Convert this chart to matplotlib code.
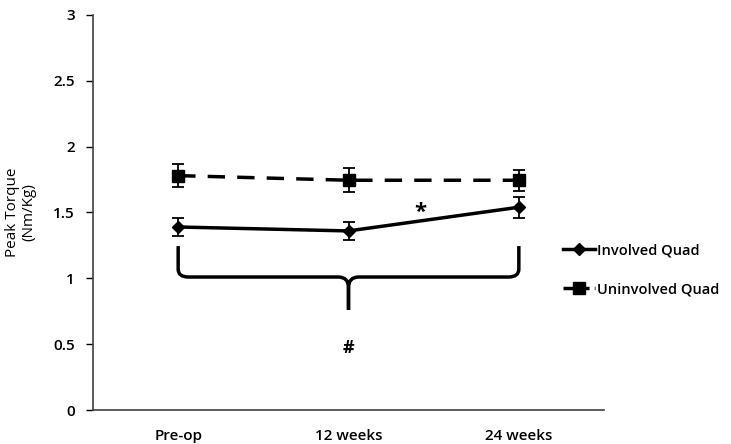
import matplotlib
matplotlib.use("Agg")
import matplotlib.pyplot as plt
from matplotlib.path import Path
from matplotlib.patches import PathPatch
from matplotlib.lines import Line2D

plt.rcParams['font.family'] = ['Open Sans', 'DejaVu Sans']
plt.rcParams['font.weight'] = 'semibold'

categories = ["Pre-op", "12 weeks", "24 weeks"]
involved = [1.39, 1.36, 1.54]
involved_err = [0.07, 0.07, 0.08]
uninvolved = [1.78, 1.745, 1.745]
uninvolved_err = [0.09, 0.09, 0.08]
yticks = [0, 0.5, 1, 1.5, 2, 2.5, 3]
ytick_labels = ["0", "0.5", "1", "1.5", "2", "2.5", "3"]

fig = plt.figure(figsize=(7.31, 4.44), dpi=100)
ax = fig.add_axes([93/731, 34/444, (604-93)/731, (410-15)/444])

x = list(range(len(categories)))
ax.errorbar(x, involved, yerr=involved_err, color='black', lw=2.5,
            marker='D', markersize=6, capsize=4, elinewidth=1.3, capthick=1.3)
ax.errorbar(x, uninvolved, yerr=uninvolved_err, color='black', lw=2.5,
            marker='s', markersize=8, capsize=4, elinewidth=1.3, capthick=1.3,
            dashes=(5, 3.5))

# brace
r = 0.06
def half(x0, x1, sgn):
    verts = [(x0, 1.245), (x0, 1.07), (x0, 1.01), (x0 + sgn*r, 1.01),
             (x1 - sgn*r, 1.01), (x1, 1.01), (x1, 0.93), (x1, 0.76)]
    codes = [Path.MOVETO, Path.LINETO, Path.CURVE3, Path.CURVE3,
             Path.LINETO, Path.CURVE3, Path.CURVE3, Path.LINETO]
    return PathPatch(Path(verts, codes), fill=False, lw=2.5, color='black', capstyle='butt')
ax.add_patch(half(0, 1, 1))
ax.add_patch(half(2, 1, -1))

ax.text(1, 0.47, "#", ha='center', va='center', fontsize=13, fontweight='bold')
ax.text(1.42, 1.5, "*", ha='center', va='center', fontsize=16, fontweight='bold')

ax.set_xlim(-0.5, 2.5)
ax.set_ylim(0, 3)
ax.set_yticks(yticks)
ax.set_yticklabels(ytick_labels, fontsize=11)
ax.set_xticks(x)
ax.set_xticklabels(categories, fontsize=11, fontweight='semibold')
ax.tick_params(axis='x', length=0, pad=14)
ax.tick_params(axis='y', length=5, width=1, direction='out', pad=8)
for s in ['top', 'right']:
    ax.spines[s].set_visible(False)
for s in ['left', 'bottom']:
    ax.spines[s].set_color('#404040')
    ax.spines[s].set_linewidth(1.2)

ax.set_ylabel("Peak Torque\n(Nm/Kg)", fontsize=11, labelpad=12, linespacing=1.1)

h1 = Line2D([], [], color='black', lw=2.5, marker='D', markersize=6)
h2 = Line2D([], [], color='black', lw=2.5, marker='s', markersize=8, dashes=(3, 1.5))
fig.legend(handles=[h1, h2], labels=['Involved Quad', 'Uninvolved Quad'],
           loc='center left', bbox_to_anchor=(550/731, 1 - 270/444),
           frameon=False, handlelength=2.2, handletextpad=0.1, labelspacing=1.7, fontsize=10.5)

fig.savefig("out.png", dpi=100)
